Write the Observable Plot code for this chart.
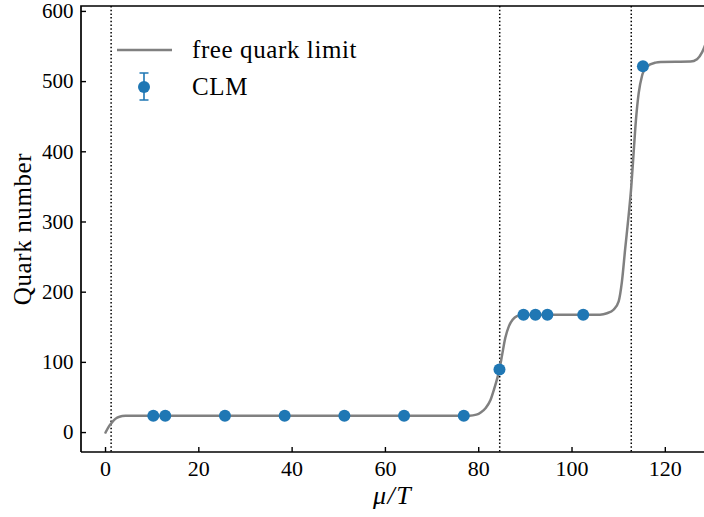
<!DOCTYPE html>
<html><head><meta charset="utf-8">
<script src="https://cdn.jsdelivr.net/npm/d3@7"></script>
<script src="https://cdn.jsdelivr.net/npm/@observablehq/plot@0.6"></script>
<style>
body{margin:0;background:#fff}
#chart svg{font-family:"Liberation Serif",serif;display:block}
</style>
</head><body><div id="chart"></div>
<script>
// CLM data points
const clmX = [10.24, 12.8, 25.6, 38.4, 51.2, 64.0, 76.8, 84.45, 89.6, 92.16, 94.72, 102.4, 115.2];
const clmY = [24, 24, 24, 24, 24, 24, 24, 90, 168, 168, 168, 168, 522];
const clmErr = [0.4, 0.4, 0.4, 0.4, 0.4, 0.4, 0.4, 1.5, 0.6, 0.6, 0.6, 0.6, 1.2];
// free quark limit curve
const freeX = [0, 0.7, 1.2, 2.1, 3, 4.3, 5.5, 78, 79.5, 80.5, 81.5, 82.5, 83.3, 84, 84.5, 85, 85.7, 86.5, 87.3, 88.2, 89.5,
  106, 107.5, 108.9, 110, 110.7, 111.4, 112.15, 112.7, 113.2, 113.7, 114.3, 115, 116, 117.9, 119, 125.4, 126.8, 127.9, 128.7];
const freeY = [0, 8.5, 13, 19.5, 22.5, 23.8, 24, 24, 25.5, 29, 35, 46, 62, 78, 92, 110, 135, 152, 161, 166, 168,
  168, 170, 175, 187, 215, 262, 310, 350, 398, 445, 484, 508, 521, 527, 528, 528.5, 532, 542, 555];
// vertical dotted lines
const transitions = [1.2, 84.5, 112.7];
const xTicks = [0, 20, 40, 60, 80, 100, 120];
const yTicks = [0, 100, 200, 300, 400, 500, 600];

const clm = clmX.map((x, i) => ({x, y: clmY[i], e: clmErr[i]}));
const free = freeX.map((x, i) => ({x, y: freeY[i]}));

const W = 704, H = 517, mL = 81, mR = 0, mT = 6, mB = 65;
const blue = "#1f77b4", gray = "#808080";
const yDom = [-28.4, 607];

const chart = Plot.plot({
  width: W, height: H,
  marginLeft: mL, marginRight: mR, marginTop: mT, marginBottom: mB,
  style: {fontFamily: "Liberation Serif, serif", fontSize: "21px", color: "black", background: "white"},
  x: {domain: [-5.15, 128.4], ticks: xTicks},
  y: {domain: yDom, ticks: yTicks},
  marks: [
    Plot.ruleX(transitions, {stroke: "black", strokeWidth: 1.5, strokeDasharray: "1.5 2.2"}),
    Plot.line(free, {x: "x", y: "y", stroke: gray, strokeWidth: 2.5, curve: "monotone-x", clip: true}),
    Plot.ruleX(clm, {x: "x", y1: d => d.y - d.e, y2: d => d.y + d.e, stroke: blue, strokeWidth: 1.5}),
    Plot.dot(clm, {x: "x", y: "y", r: 6, fill: blue, stroke: "none"}),
    Plot.axisX({ticks: xTicks, tickSize: 5, tickFormat: () => "", dy: -5, strokeWidth: 1.4, label: null}),
    Plot.axisY({ticks: yTicks, tickSize: 5, tickFormat: () => "", dx: 5, strokeWidth: 1.4, label: null}),
    Plot.axisX({ticks: xTicks, tickSize: 0, tickPadding: 8, label: null, fontSize: 22}),
    Plot.axisY({ticks: yTicks, tickSize: 0, tickPadding: 8, label: null, fontSize: 21})
  ]
});

document.getElementById("chart").appendChild(chart);

const svg = d3.select(chart);
const ys = chart.scale("y");
const x0 = mL, x1 = W, y0 = ys.apply(yDom[1]), y1 = ys.apply(yDom[0]);
// spines: top, left, bottom
const sp = svg.append("g").attr("stroke", "black").attr("stroke-width", 1.7).attr("fill", "none");
sp.append("path").attr("d", `M${x0},${y1}V${y0}H${x1}`);
sp.append("path").attr("d", `M${x0},${y1}H${x1}`);

// axis labels
svg.append("text").attr("x", (x0 + x1) / 2).attr("y", 504).attr("text-anchor", "middle")
  .attr("font-size", 26).attr("font-style", "italic").attr("letter-spacing", 1.5).text("μ/T");
svg.append("text").attr("transform", `translate(31,${(y0 + y1) / 2}) rotate(-90)`).attr("text-anchor", "middle")
  .attr("font-size", 25).attr("letter-spacing", 0.6).text("Quark number");

// legend
const lg = svg.append("g").attr("text-anchor", "start");
lg.append("line").attr("x1", 117).attr("x2", 172).attr("y1", 50).attr("y2", 50)
  .attr("stroke", gray).attr("stroke-width", 2.5);
lg.append("text").attr("x", 192).attr("y", 50).attr("dy", "0.32em").attr("font-size", 25)
  .attr("letter-spacing", 0.6).text("free quark limit");
lg.append("path").attr("d", "M144,73V100M139.5,73H148.5M139.5,100H148.5")
  .attr("stroke", blue).attr("stroke-width", 1.6).attr("fill", "none");
lg.append("circle").attr("cx", 144).attr("cy", 87).attr("r", 6).attr("fill", blue);
lg.append("text").attr("x", 192).attr("y", 87).attr("dy", "0.32em").attr("font-size", 25)
  .attr("letter-spacing", 0.6).text("CLM");
</script>
</body></html>
